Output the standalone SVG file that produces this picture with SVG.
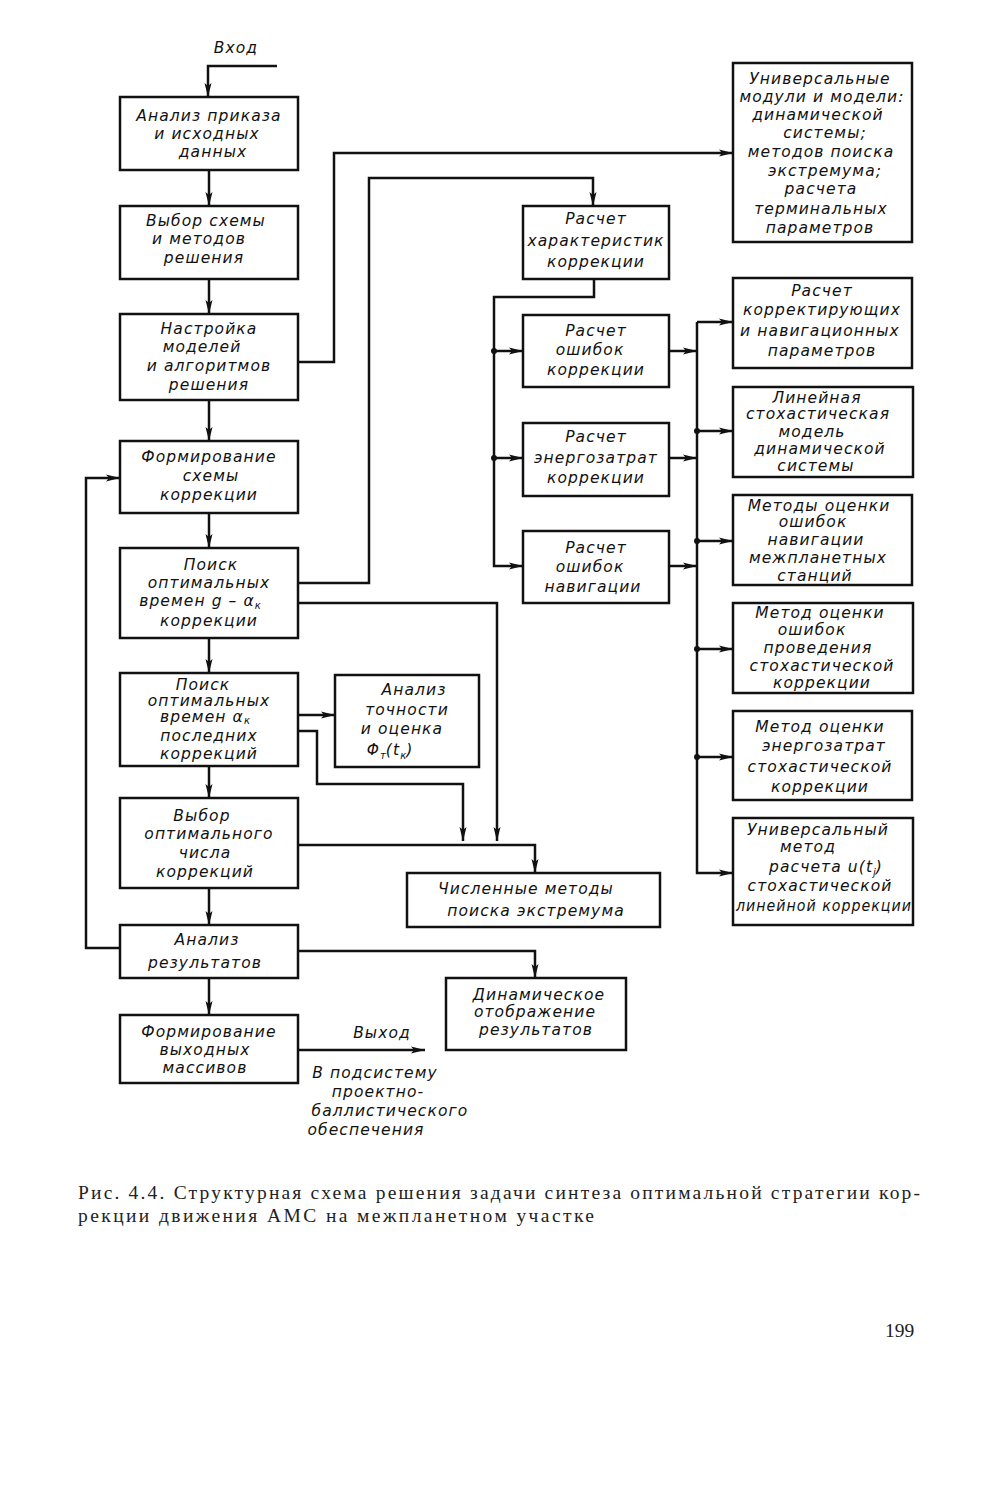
<svg xmlns="http://www.w3.org/2000/svg" width="1001" height="1500" viewBox="0 0 1001 1500">
<style>
.b{fill:none;stroke:#111;stroke-width:2.5}
.c{fill:none;stroke:#111;stroke-width:2.5}
.t{font-family:"DejaVu Sans","Liberation Sans",sans-serif;font-style:italic;font-size:15.5px;letter-spacing:1.1px;fill:#111;text-anchor:middle}
.s{font-size:10px;letter-spacing:0}
.cap{font-family:"Liberation Serif",serif;font-size:19.5px;fill:#222}
</style>
<defs>
<marker id="a" markerUnits="userSpaceOnUse" markerWidth="14" markerHeight="8" refX="14" refY="4" orient="auto">
<path d="M0,0.5 L14,4 L0,7.5 L3,4 z" fill="#111"/>
</marker>
</defs>
<rect width="1001" height="1500" fill="#fff"/>

<g id="connectors">
<path class="c" d="M277,66 H208 V97" marker-end="url(#a)"/>
<path class="c" d="M209,170 V206" marker-end="url(#a)"/>
<path class="c" d="M209,279 V314" marker-end="url(#a)"/>
<path class="c" d="M209,400 V441" marker-end="url(#a)"/>
<path class="c" d="M209,513 V548" marker-end="url(#a)"/>
<path class="c" d="M209,638 V673" marker-end="url(#a)"/>
<path class="c" d="M209,766 V798" marker-end="url(#a)"/>
<path class="c" d="M209,888 V925" marker-end="url(#a)"/>
<path class="c" d="M209,978 V1015" marker-end="url(#a)"/>
<path class="c" d="M298,362 H334 V153 H733" marker-end="url(#a)"/>
<path class="c" d="M298,583 H369 V178 H593 V206" marker-end="url(#a)"/>
<path class="c" d="M594,279 V297 H494 V566 H523" marker-end="url(#a)"/>
<path class="c" d="M494,351 H523" marker-end="url(#a)"/>
<path class="c" d="M494,458 H523" marker-end="url(#a)"/>
<circle cx="494" cy="351" r="3" fill="#111"/>
<circle cx="494" cy="458" r="3" fill="#111"/>
<path class="c" d="M669,351 H697" marker-end="url(#a)"/>
<path class="c" d="M669,458 H697" marker-end="url(#a)"/>
<path class="c" d="M669,566 H697" marker-end="url(#a)"/>
<path class="c" d="M697,322 H733" marker-end="url(#a)"/>
<path class="c" d="M697,322 V873 H733" marker-end="url(#a)"/>
<path class="c" d="M697,431 H733" marker-end="url(#a)"/>
<path class="c" d="M697,541 H733" marker-end="url(#a)"/>
<path class="c" d="M697,649 H733" marker-end="url(#a)"/>
<path class="c" d="M697,757 H733" marker-end="url(#a)"/>
<circle cx="697" cy="431" r="3" fill="#111"/>
<circle cx="697" cy="541" r="3" fill="#111"/>
<circle cx="697" cy="649" r="3" fill="#111"/>
<circle cx="697" cy="757" r="3" fill="#111"/>
<path class="c" d="M298,603 H497 V841" marker-end="url(#a)"/>
<path class="c" d="M298,715 H335" marker-end="url(#a)"/>
<path class="c" d="M298,731 H317 V784 H463 V841" marker-end="url(#a)"/>
<path class="c" d="M298,845 H535 V873" marker-end="url(#a)"/>
<path class="c" d="M298,951 H535 V978" marker-end="url(#a)"/>
<path class="c" d="M120,948 H86 V478 H120" marker-end="url(#a)"/>
<path class="c" d="M298,1050 H425" marker-end="url(#a)"/>
</g>

<g id="in-label"><text class="t" x="236" y="53">Вход</text></g>

<g id="n1"><rect class="b" x="120" y="97" width="178" height="73"/>
<text class="t" x="209" y="121">Анализ приказа</text><text class="t" x="207" y="139">и исходных</text><text class="t" x="213" y="157">данных</text></g>

<g id="n2"><rect class="b" x="120" y="206" width="178" height="73"/>
<text class="t" x="206" y="226">Выбор схемы</text><text class="t" x="199" y="244">и методов</text><text class="t" x="204" y="263">решения</text></g>

<g id="n3"><rect class="b" x="120" y="314" width="178" height="86"/>
<text class="t" x="209" y="334">Настройка</text><text class="t" x="202" y="352">моделей</text><text class="t" x="209" y="371">и алгоритмов</text><text class="t" x="209" y="390">решения</text></g>

<g id="n4"><rect class="b" x="120" y="441" width="178" height="72"/>
<text class="t" x="209" y="462">Формирование</text><text class="t" x="211" y="481">схемы</text><text class="t" x="209" y="500">коррекции</text></g>

<g id="n5"><rect class="b" x="120" y="548" width="178" height="90"/>
<text class="t" x="211" y="570">Поиск</text><text class="t" x="209" y="588">оптимальных</text><text class="t" x="200" y="606">времен g – α<tspan class="s" dy="3">к</tspan></text><text class="t" x="209" y="626">коррекции</text></g>

<g id="n6"><rect class="b" x="120" y="673" width="178" height="93"/>
<text class="t" x="203" y="690">Поиск</text><text class="t" x="209" y="706">оптимальных</text><text class="t" x="205" y="722">времен α<tspan class="s" dy="2">к</tspan></text><text class="t" x="209" y="741">последних</text><text class="t" x="209" y="759">коррекций</text></g>

<g id="n7"><rect class="b" x="335" y="675" width="144" height="92"/>
<text class="t" x="414" y="695">Анализ</text><text class="t" x="407" y="715">точности</text><text class="t" x="402" y="734">и оценка</text><text class="t" x="390" y="755">Φ<tspan class="s" dy="4">т</tspan><tspan dy="-4">(t</tspan><tspan class="s" dy="4">к</tspan><tspan dy="-4">)</tspan></text></g>

<g id="n8"><rect class="b" x="120" y="798" width="178" height="90"/>
<text class="t" x="202" y="821">Выбор</text><text class="t" x="209" y="839">оптимального</text><text class="t" x="205" y="858">числа</text><text class="t" x="205" y="877">коррекций</text></g>

<g id="n9"><rect class="b" x="120" y="925" width="178" height="53"/>
<text class="t" x="207" y="945">Анализ</text><text class="t" x="205" y="968">результатов</text></g>

<g id="n10"><rect class="b" x="120" y="1015" width="178" height="68"/>
<text class="t" x="209" y="1037">Формирование</text><text class="t" x="205" y="1055">выходных</text><text class="t" x="205" y="1073">массивов</text></g>

<g id="out-label"><text class="t" x="382" y="1038">Выход</text>
<text class="t" x="375" y="1078">В подсистему</text><text class="t" x="378" y="1097">проектно-</text><text class="t" x="390" y="1116">баллистического</text><text class="t" x="366" y="1135">обеспечения</text></g>

<g id="n11"><rect class="b" x="407" y="873" width="253" height="54"/>
<text class="t" x="526" y="894">Численные методы</text><text class="t" x="536" y="916">поиска экстремума</text></g>

<g id="n12"><rect class="b" x="446" y="978" width="180" height="72"/>
<text class="t" x="539" y="1000">Динамическое</text><text class="t" x="535" y="1017">отображение</text><text class="t" x="536" y="1035">результатов</text></g>

<g id="n13"><rect class="b" x="733" y="63" width="179" height="179"/>
<text class="t" x="820" y="84">Универсальные</text><text class="t" x="822" y="102">модули и модели:</text><text class="t" x="818" y="120">динамической</text><text class="t" x="825" y="138">системы;</text><text class="t" x="821" y="157">методов поиска</text><text class="t" x="825" y="176">экстремума;</text><text class="t" x="821" y="194">расчета</text><text class="t" x="821" y="214">терминальных</text><text class="t" x="820" y="233">параметров</text></g>

<g id="n14"><rect class="b" x="523" y="206" width="146" height="73"/>
<text class="t" x="596" y="224">Расчет</text><text class="t" x="596" y="246">характеристик</text><text class="t" x="596" y="267">коррекции</text></g>

<g id="n15"><rect class="b" x="523" y="315" width="146" height="72"/>
<text class="t" x="596" y="336">Расчет</text><text class="t" x="590" y="355">ошибок</text><text class="t" x="596" y="375">коррекции</text></g>

<g id="n16"><rect class="b" x="523" y="423" width="146" height="73"/>
<text class="t" x="596" y="442">Расчет</text><text class="t" x="596" y="463">энергозатрат</text><text class="t" x="596" y="483">коррекции</text></g>

<g id="n17"><rect class="b" x="523" y="531" width="146" height="72"/>
<text class="t" x="596" y="553">Расчет</text><text class="t" x="590" y="572">ошибок</text><text class="t" x="593" y="592">навигации</text></g>

<g id="n18"><rect class="b" x="733" y="278" width="179" height="90"/>
<text class="t" x="822" y="296">Расчет</text><text class="t" x="822" y="315">корректирующих</text><text class="t" x="820" y="336">и навигационных</text><text class="t" x="822" y="356">параметров</text></g>

<g id="n19"><rect class="b" x="733" y="387" width="180" height="90"/>
<text class="t" x="817" y="403">Линейная</text><text class="t" x="818" y="419">стохастическая</text><text class="t" x="812" y="437">модель</text><text class="t" x="820" y="454">динамической</text><text class="t" x="816" y="471">системы</text></g>

<g id="n20"><rect class="b" x="733" y="495" width="179" height="90"/>
<text class="t" x="819" y="511">Методы оценки</text><text class="t" x="813" y="527">ошибок</text><text class="t" x="816" y="545">навигации</text><text class="t" x="818" y="563">межпланетных</text><text class="t" x="815" y="581">станций</text></g>

<g id="n21"><rect class="b" x="733" y="603" width="180" height="90"/>
<text class="t" x="820" y="618">Метод оценки</text><text class="t" x="812" y="635">ошибок</text><text class="t" x="818" y="653">проведения</text><text class="t" x="822" y="671">стохастической</text><text class="t" x="822" y="688">коррекции</text></g>

<g id="n22"><rect class="b" x="733" y="711" width="179" height="89"/>
<text class="t" x="820" y="732">Метод оценки</text><text class="t" x="824" y="751">энергозатрат</text><text class="t" x="820" y="772">стохастической</text><text class="t" x="820" y="792">коррекции</text></g>

<g id="n23"><rect class="b" x="733" y="818" width="180" height="107"/>
<text class="t" x="818" y="835">Универсальный</text><text class="t" x="808" y="852">метод</text><text class="t" x="826" y="872">расчета u(t<tspan class="s" dy="4">j</tspan><tspan dy="-4">)</tspan></text><text class="t" x="820" y="891">стохастической</text><text class="t" x="824" y="911" textLength="176" lengthAdjust="spacingAndGlyphs">линейной коррекции</text></g>

<g id="caption">
<text class="cap" x="78" y="1199" textLength="842" lengthAdjust="spacing">Рис. 4.4. Структурная схема решения задачи синтеза оптимальной стратегии кор-</text>
<text class="cap" x="78" y="1222" textLength="516" lengthAdjust="spacing">рекции движения АМС на межпланетном участке</text>
<text class="cap" x="885" y="1337" font-size="21">199</text>
</g>
</svg>
